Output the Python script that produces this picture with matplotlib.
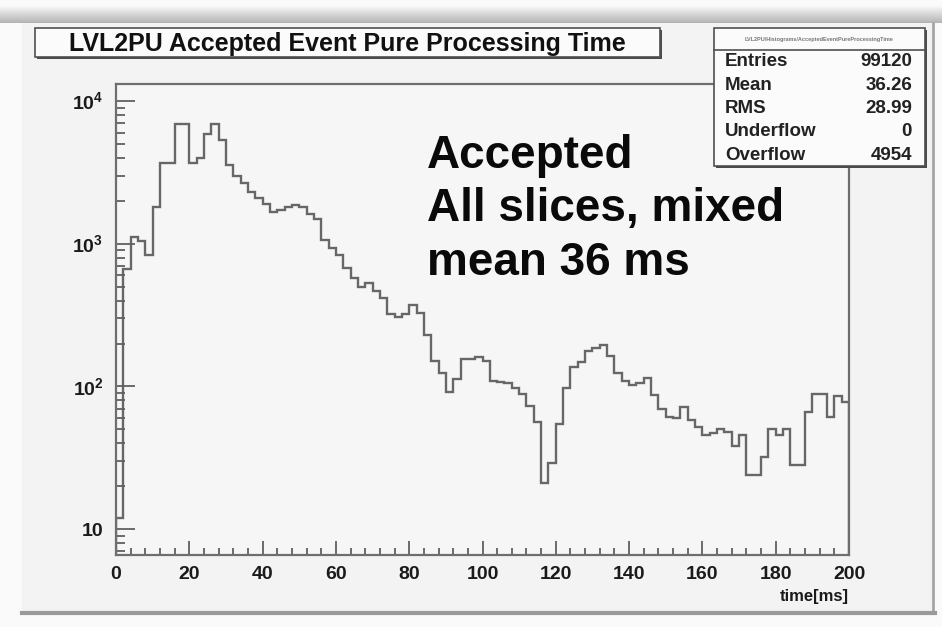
import matplotlib
matplotlib.use('Agg')
import matplotlib.pyplot as plt
import numpy as np
from matplotlib.patches import Rectangle
from matplotlib.colors import LinearSegmentedColormap
from matplotlib.ticker import FixedLocator, FixedFormatter, MultipleLocator, NullFormatter, LogLocator

# histogram: 2 ms bins from 0 to 200 ms
bin_edges = np.arange(0, 202, 2)
counts = [
    12, 670, 1110, 1040, 830, 1820, 3650, 3650, 6900, 6900,
    3650, 4000, 5900, 6850, 5300, 3550, 3000, 2650, 2300, 2100,
    1900, 1680, 1730, 1800, 1870, 1800, 1620, 1480, 1060, 940,
    840, 680, 580, 500, 535, 470, 420, 320, 305, 320,
    370, 325, 230, 150, 125, 92, 112, 155, 157, 160,
    150, 110, 108, 105, 98, 88, 73, 56, 21, 29,
    55, 98, 138, 148, 178, 185, 196, 164, 125, 110,
    103, 106, 114, 87, 69, 61, 60, 72, 58, 52,
    46, 47, 50, 48, 38, 46, 24, 24, 32, 50,
    46, 50, 28, 28, 66, 88, 88, 61, 86, 78,
]

stats_labels = ['Entries', 'Mean', 'RMS', 'Underflow', 'Overflow']
stats_values = ['99120', '36.26', '28.99', '0', '4954']
stats_name = 'LVL2PU/Histograms/AcceptedEventPureProcessingTime'

title = 'LVL2PU Accepted Event Pure Processing Time'
note_lines = ['Accepted', 'All slices, mixed', 'mean 36 ms']

y_major = [10, 100, 1000, 10000]
y_major_labels = ['10', '$10^{2}$', '$10^{3}$', '$10^{4}$']
x_major = np.arange(0, 201, 20)
x_title = 'time[ms]'

plt.rcParams['font.family'] = ['Liberation Sans', 'DejaVu Sans']
plt.rcParams['font.weight'] = 'bold'
plt.rcParams['axes.labelweight'] = 'bold'
plt.rcParams['mathtext.fontset'] = 'custom'
plt.rcParams['mathtext.rm'] = 'Liberation Sans:bold'
plt.rcParams['mathtext.bf'] = 'Liberation Sans:bold'

W, H = 942, 627
fig = plt.figure(figsize=(W / 100, H / 100), dpi=100, facecolor='#fafafa')

# canvas background in pixel coordinates
bg = fig.add_axes([0, 0, 1, 1])
shade = LinearSegmentedColormap.from_list('shade', ['#f8f8f8', '#b4b4b4'])
bg.imshow(np.linspace(0, 1, 30).reshape(-1, 1), extent=[0, W, 23, 6],
          cmap=shade, aspect='auto', origin='upper')
bg.add_patch(Rectangle((22, 23), 911, 589, facecolor='#f3f3f3', edgecolor='none'))
bg.plot([933, 933], [23, 613], color='#a5a5a5', lw=2)
bg.plot([22, 935], [613, 613], color='#9a9a9a', lw=3)
bg.set_xlim(0, W)
bg.set_ylim(H, 0)
bg.axis('off')

# histogram frame
ax = fig.add_axes([116 / W, 1 - 555 / H, (849 - 116) / W, (555 - 84) / H])
ax.set_facecolor('#f6f6f6')
ax.stairs(counts, bin_edges, color='#676767', lw=1.7)
ax.set_yscale('log')
ax.set_xlim(0, 200)
ax.set_ylim(6.6, 13150)
for s in ax.spines.values():
    s.set_color('#6e6e6e')
    s.set_linewidth(1.6)

ax.xaxis.set_major_locator(FixedLocator(x_major))
ax.xaxis.set_minor_locator(MultipleLocator(4))
ax.yaxis.set_major_locator(FixedLocator(y_major))
ax.yaxis.set_major_formatter(FixedFormatter(y_major_labels))
ax.yaxis.set_minor_locator(LogLocator(base=10, subs=np.arange(2, 10)))
ax.yaxis.set_minor_formatter(NullFormatter())
ax.tick_params(axis='both', which='both', direction='in', color='#606060', width=1.3)
ax.tick_params(axis='y', which='major', length=14, pad=9, labelsize=14, labelcolor='#1a1a1a')
ax.tick_params(axis='y', which='minor', length=6.5)
ax.tick_params(axis='x', which='major', length=10, pad=8, labelsize=14, labelcolor='#1a1a1a')
ax.tick_params(axis='x', which='minor', length=5)
ax.set_xlabel(x_title, loc='right', fontsize=12, color='#1a1a1a', labelpad=4)

# overlay: title box, stats box and note
ov = fig.add_axes([0, 0, 1, 1])
ov.patch.set_alpha(0)
ov.set_xlim(0, W)
ov.set_ylim(H, 0)
ov.axis('off')

ov.add_patch(Rectangle((37, 30), 625, 29, facecolor='#4a4a4a', edgecolor='none'))
ov.add_patch(Rectangle((35, 28), 625, 29, facecolor='#fbfbfb', edgecolor='#505050', lw=1.2))
ov.text(347, 43.5, title, ha='center', va='center', fontsize=18, color='#111111')

ov.add_patch(Rectangle((716, 30), 211, 138, facecolor='#4a4a4a', edgecolor='none'))
ov.add_patch(Rectangle((714, 28), 211, 138, facecolor='#fbfbfb', edgecolor='#505050', lw=1.2))
ov.plot([714, 925], [50, 50], color='#505050', lw=1.2)
ov.text(819, 39, stats_name, ha='center', va='center', fontsize=4, color='#777777')
for i, (lab, val) in enumerate(zip(stats_labels, stats_values)):
    yy = 62 + 23.3 * i
    ov.text(725, yy, lab, ha='left', va='center', fontsize=13.5, color='#222222')
    ov.text(912, yy, val, ha='right', va='center', fontsize=13.5, color='#222222')

# one text per line so the line pitch can follow the slide
for i, line in enumerate(note_lines):
    ov.text(427, 168 + 53.5 * i, line, ha='left', va='baseline', fontsize=33,
            fontweight='bold', color='#0a0a0a')

fig.savefig('out.png', dpi=100, facecolor=fig.get_facecolor())
